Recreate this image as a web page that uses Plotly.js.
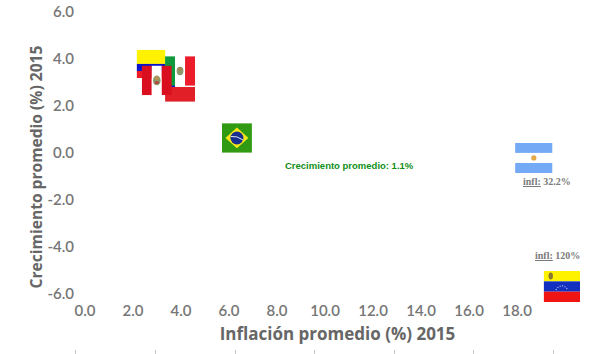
<!DOCTYPE html>
<html>
<head>
<meta charset="utf-8">
<script src="https://cdn.plot.ly/plotly-3.0.1.min.js"></script>
<style>html,body{margin:0;padding:0;background:#fff}#c{width:600px;height:354px}</style>
</head>
<body>
<div id="c"></div>
<script>
var countries = ['Colombia','Chile','México','Perú','Brasil','Argentina','Venezuela'];
var inflation = [2.75, 3.96, 3.96, 2.99, 6.33, 18.7, 19.87];
var growth = [3.79, 2.81, 3.49, 3.09, 0.64, -0.21, -5.68];
var flagWidth = [1.2, 1.25, 1.25, 1.25, 1.25, 1.56, 1.52];
var flagHeight = [1.2, 1.26, 1.26, 1.26, 1.26, 1.28, 1.32];
var xTicks = [0,2,4,6,8,10,12,14,16,18];
var xTickText = ['0.0','2.0','4.0','6.0','8.0','10.0','12.0','14.0','16.0','18.0'];
var yTicks = [-6,-4,-2,0,2,4,6];
var yTickText = ['-6.0','-4.0','-2.0','0.0','2.0','4.0','6.0'];
var bottomTicks = [-0.38,2.94,6.25,9.56,12.88,16.19,19.5];
var avgNote = 'Crecimiento promedio: 1.1%';
var argNote = 'infl: 32.2%';
var venNote = 'infl: 120%';

function svg(w,h,body){
  return 'data:image/svg+xml;utf8,'+encodeURIComponent('<svg xmlns="http://www.w3.org/2000/svg" width="'+w+'" height="'+h+'" viewBox="0 0 '+w+' '+h+'" preserveAspectRatio="none">'+body+'</svg>');
}
function r(x,y,w,h,c){return '<rect x="'+x+'" y="'+y+'" width="'+w+'" height="'+h+'" fill="'+c+'"/>';}
var flags = {
  'Colombia': svg(30,30, r(0,0,30,15,'#fff200')+r(0,15,30,7.5,'#0a14c8')+r(0,22.5,30,7.5,'#ee1c25')),
  'Chile': svg(30,30, r(0,0,30,15,'#ffffff')+r(0,0,10,15,'#0a14c8')+r(0,15,30,15,'#e02026')),
  'México': svg(30,30, r(0,0,10,30,'#0f9a3e')+r(10,0,10,30,'#ffffff')+r(20,0,10,30,'#ed1c2b')+'<ellipse cx="15" cy="15" rx="3.4" ry="4.2" fill="#8a9a6a"/><circle cx="15" cy="13" r="1.6" fill="#b08050"/>'),
  'Perú': svg(30,30, r(0,0,10,30,'#d90f1f')+r(10,0,10,30,'#ffffff')+r(20,0,10,30,'#d90f1f')+'<ellipse cx="15" cy="15" rx="3.8" ry="5" fill="#8a9a6a"/><circle cx="15" cy="12.5" r="2" fill="#c09050"/><rect x="13" y="16" width="4" height="2.5" fill="#b84040"/>'),
  'Brasil': svg(30,30, r(0,0,30,30,'#2f9a12')+'<polygon points="3.5,15 15,4.5 26.5,15 15,25.5" fill="#f7e61a"/><circle cx="15" cy="15" r="6.5" fill="#17308f"/><path d="M8.8 13.5 Q15 12.5 21 17" stroke="#dfe8f0" stroke-width="1" fill="none"/>'),
  'Argentina': svg(37,30, r(0,0,37,10,'#74a9f5')+r(0,10,37,10,'#ffffff')+r(0,20,37,10,'#74a9f5')+'<circle cx="18.5" cy="15" r="2.6" fill="#e3a84a"/>'),
  'Venezuela': svg(36,31, r(0,0,36,10.33,'#fff200')+r(0,10.33,36,10.33,'#1430c0')+r(0,20.67,36,10.33,'#f01414')+'<ellipse cx="7" cy="5" rx="2.2" ry="3.4" fill="#8a7a30"/><path d="M12 19 Q18 10.5 24 19" stroke="#dfe3f5" stroke-width="1" stroke-dasharray="1 1.6" fill="none"/>')
};
var images = countries.map(function(name,i){
  return {source:flags[name], xref:'x', yref:'y', x:inflation[i], y:growth[i], sizex:flagWidth[i], sizey:flagHeight[i],
          xanchor:'center', yanchor:'middle', sizing:'stretch', layer:'above'};
});

var gray = '#767676';
var titleGray = '#666666';
var pen = "'Open Sans', sans-serif";
var under = function(s){
  return s.replace('infl:', '<span style="text-decoration:underline;text-decoration-color:#d9506a">infl:</span>');
};

var data = [
  {type:'scatter', mode:'markers', x:inflation, y:growth, text:countries, hoverinfo:'text',
   marker:{size:20, symbol:'square', opacity:0}, showlegend:false, xaxis:'x', yaxis:'y'},
  {type:'scatter', mode:'markers', x:bottomTicks, y:growth.slice(0,7), marker:{opacity:0}, hoverinfo:'skip',
   showlegend:false, xaxis:'x2', yaxis:'y'}
];

var layout = {
  width:600, height:354,
  margin:{l:60, r:0, t:0, b:0, autoexpand:false},
  paper_bgcolor:'#ffffff', plot_bgcolor:'rgba(0,0,0,0)',
  showlegend:false,
  xaxis:{
    range:[-0.417,21.458], domain:[0.02778,1], anchor:'free', position:0.1525,
    tickmode:'array', tickvals:xTicks, ticktext:xTickText,
    showgrid:false, zeroline:false, showline:false, ticks:'',
    tickfont:{family:"Lato, sans-serif", size:15, color:gray, weight:600},
    title:{text:'<b>Inflación promedio (%) 2015</b>', font:{family:pen, size:17, color:titleGray}, standoff:10},
    automargin:false
  },
  xaxis2:{
    range:[-1.042,21.458], domain:[0,1], anchor:'free', position:0, side:'bottom',
    tickmode:'array', tickvals:bottomTicks, showticklabels:false,
    ticks:'inside', ticklen:4, tickwidth:1, tickcolor:'#c8c8c8',
    showgrid:false, zeroline:false, showline:false, automargin:false
  },
  yaxis:{
    range:[-7.70,6.51], domain:[0.0565,1], anchor:'x',
    tickmode:'array', tickvals:yTicks, ticktext:yTickText,
    showgrid:false, zeroline:false, showline:false, ticks:'',
    tickfont:{family:"Lato, sans-serif", size:15, color:gray, weight:600},
    title:{text:'<b>Crecimiento promedio (%) 2015</b>', font:{family:pen, size:15.6, color:titleGray}, standoff:0},
    automargin:false
  },
  images:images,
  annotations:[
    {xref:'x', yref:'y', x:11.02, y:-0.55, text:'<b>'+avgNote+'</b>', showarrow:false,
     font:{family:"'Liberation Sans', Arial, sans-serif", size:9.5, color:'#0f8f18'}},
    {xref:'x', yref:'y', x:19.27, y:-1.23, text:'<b>'+under(argNote)+'</b>', showarrow:false,
     font:{family:"'Liberation Serif', serif", size:10, color:'#7a7a7a'}},
    {xref:'x', yref:'y', x:19.67, y:-4.38, text:'<b>'+under(venNote)+'</b>', showarrow:false,
     font:{family:"'Liberation Serif', serif", size:10, color:'#7a7a7a'}}
  ]
};
Plotly.newPlot('c', data, layout, {displayModeBar:false, staticPlot:true});
</script>
</body>
</html>
